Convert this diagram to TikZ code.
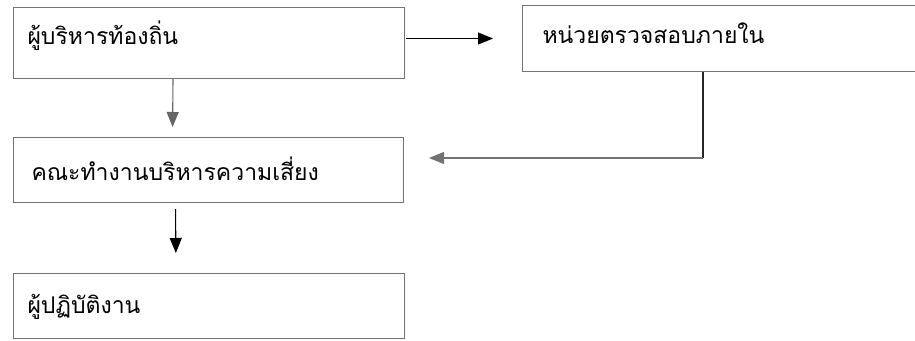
\documentclass[tikz,border=0pt]{standalone}
\usepackage{fontspec}
\newfontfamily\thaifont[Script=Thai]{Loma}
\usetikzlibrary{arrows.meta}

\begin{document}
\begin{tikzpicture}[x=1pt, y=-1pt, font=\thaifont\fontsize{23}{27}\selectfont]
        \useasboundingbox (0,0) rectangle (915,340);

        \begin{scope}[every node/.style={draw=black!55, line width=1pt, anchor=north west, align=left, text depth=5pt}]
                \node [minimum height=71pt, text width=363pt, inner xsep=14pt, text height=8pt] (Exec) at (13,7) {ผู้บริหารท้องถิ่น};
                \node [minimum height=66pt, text width=363pt, inner xsep=20pt, text height=15pt] (Audit) at (522,5) {หน่วยตรวจสอบภายใน};
                \node [minimum height=65pt, text width=354pt, inner xsep=18pt, text height=26pt] (Risk) at (13,137) {คณะทำงานบริหารความเสี่ยง};
                \node [minimum height=65pt, text width=363pt, inner xsep=14pt, text height=20pt] (Staff) at (13,273) {ผู้ปฏิบัติงาน};
        \end{scope}

        \coordinate (Turn) at (703,158);

        \begin{scope}[every path/.style={line width=1.1pt, >={Triangle[length=15pt, width=12pt]}}]
                \draw [->, shorten <=1pt, shorten >=29pt] (Exec.east |- Audit.west) -- (Audit.west);
                \draw [->, black!60, shorten >=10pt] ([xshift=-36pt]Exec.south) -- ([xshift=-36pt]Risk.north);
                \draw [black!85] (Turn |- Audit.south) -- (Turn);
                \draw [->, black!55, shorten >=25pt] (Turn) -- (Risk.east |- Turn);
                \draw [->, shorten <=6pt, shorten >=20pt] ([xshift=-33pt]Risk.south) -- ([xshift=-33pt]Staff.north);
        \end{scope}
\end{tikzpicture}
\end{document}
